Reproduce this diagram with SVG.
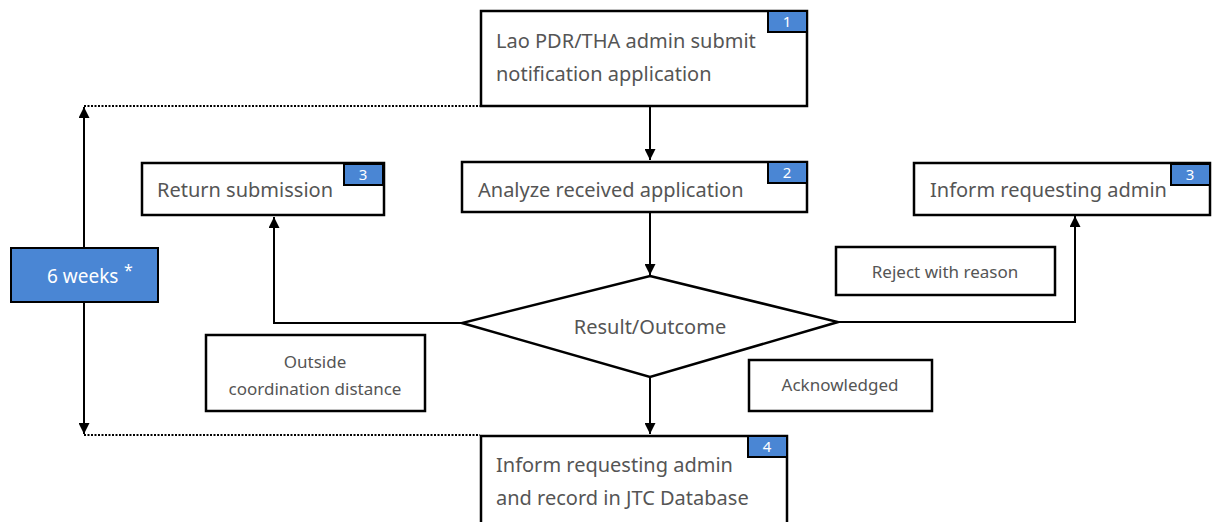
<svg xmlns="http://www.w3.org/2000/svg" width="1215" height="522" viewBox="0 0 1215 522">
  <style>
    .box { fill: #ffffff; stroke: #000000; stroke-width: 2.5; }
    .tag { fill: #4a86d4; stroke: #000000; stroke-width: 2; }
    .tagtxt { fill: #ffffff; font-family: "Noto Sans", "DejaVu Sans", sans-serif; font-size: 15px; text-anchor: middle; }
    .lbl { fill: #555555; font-family: "Noto Sans", "DejaVu Sans", sans-serif; font-size: 20px; }
    .note { fill: #555555; font-family: "Noto Sans", "DejaVu Sans", sans-serif; font-size: 17px; text-anchor: middle; }
    .wire { fill: none; stroke: #000000; stroke-width: 2; }
    .dots { fill: none; stroke: #000000; stroke-width: 2; stroke-dasharray: 2 1.5; }
  </style>
  <defs>
    <marker id="arrow" viewBox="0 0 10 10" refX="10" refY="5" markerWidth="11" markerHeight="11" markerUnits="userSpaceOnUse" orient="auto">
      <path d="M0,0 L10,5 L0,10 Z" fill="#000000"/>
    </marker>
  </defs>
  <rect width="1215" height="522" fill="#ffffff"/>

  <!-- flow lines and the 6-week span -->
  <g id="connectors">
    <line class="wire" x1="650" y1="107" x2="650" y2="160" marker-end="url(#arrow)"/>
    <line class="wire" x1="650" y1="213" x2="650" y2="275" marker-end="url(#arrow)"/>
    <polyline class="wire" points="462,323 274,323 274,217" marker-end="url(#arrow)"/>
    <polyline class="wire" points="838,322 1075,322 1075,216" marker-end="url(#arrow)"/>
    <line class="wire" x1="650" y1="377" x2="650" y2="434" marker-end="url(#arrow)"/>
    <line class="wire" x1="84" y1="247" x2="84" y2="107" marker-end="url(#arrow)"/>
    <line class="wire" x1="84" y1="302" x2="84" y2="434" marker-end="url(#arrow)"/>
    <line class="dots" x1="84" y1="106" x2="480" y2="106"/>
    <line class="dots" x1="84" y1="435" x2="480" y2="435"/>
  </g>

  <g id="submit">
    <rect class="box" x="481" y="11" width="326" height="95"/>
    <rect class="tag" x="768" y="11" width="39" height="21"/>
    <text class="tagtxt" x="787" y="27">1</text>
    <text class="lbl" x="496" y="48">Lao PDR/THA admin submit</text>
    <text class="lbl" x="496" y="81">notification application</text>
  </g>

  <g id="analyze">
    <rect class="box" x="462" y="162" width="345" height="50"/>
    <rect class="tag" x="768" y="162" width="39" height="21"/>
    <text class="tagtxt" x="787" y="178">2</text>
    <text class="lbl" x="478" y="197">Analyze received application</text>
  </g>

  <g id="return">
    <rect class="box" x="142" y="163" width="242" height="52"/>
    <rect class="tag" x="344" y="164" width="39" height="21"/>
    <text class="tagtxt" x="363" y="180">3</text>
    <text class="lbl" x="157" y="197">Return submission</text>
  </g>

  <g id="inform-reject">
    <rect class="box" x="914" y="163" width="296" height="52"/>
    <rect class="tag" x="1171" y="164" width="39" height="21"/>
    <text class="tagtxt" x="1190" y="180">3</text>
    <text class="lbl" x="930" y="197">Inform requesting admin</text>
  </g>

  <g id="weeks">
    <rect x="11" y="248" width="147" height="54" fill="#4a86d4" stroke="#000000" stroke-width="2"/>
    <text x="47" y="283" fill="#ffffff" font-family="'Noto Sans', 'DejaVu Sans', sans-serif" font-size="19">6 weeks</text>
    <text x="124" y="276" fill="#ffffff" font-family="'Noto Sans', 'DejaVu Sans', sans-serif" font-size="16">*</text>
  </g>

  <g id="reject-note">
    <rect class="box" x="836" y="247" width="219" height="48"/>
    <text class="note" x="945" y="278">Reject with reason</text>
  </g>

  <g id="outcome">
    <polygon class="box" points="650,276 838,322 650,377 462,323"/>
    <text class="lbl" x="650" y="334" text-anchor="middle">Result/Outcome</text>
  </g>

  <g id="outside-note">
    <rect class="box" x="206" y="335" width="219" height="76"/>
    <text class="note" x="315" y="368">Outside</text>
    <text class="note" x="315" y="395">coordination distance</text>
  </g>

  <g id="ack-note">
    <rect class="box" x="749" y="360" width="183" height="51"/>
    <text class="note" x="840" y="391">Acknowledged</text>
  </g>

  <g id="record">
    <rect class="box" x="481" y="436" width="306" height="90"/>
    <rect class="tag" x="748" y="436" width="39" height="21"/>
    <text class="tagtxt" x="767" y="452">4</text>
    <text class="lbl" x="496" y="472">Inform requesting admin</text>
    <text class="lbl" x="496" y="505">and record in JTC Database</text>
  </g>
</svg>
